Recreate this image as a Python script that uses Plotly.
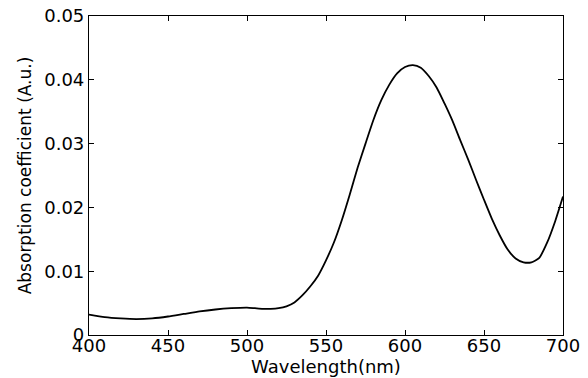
import plotly.graph_objects as go

wavelength_nm = [400, 410, 420, 430, 440, 450, 460, 470, 480, 490, 500, 505, 510, 515, 520, 525,
                 530, 535, 540, 545, 550, 555, 560, 565, 570, 575, 580, 585, 590, 595,
                 600, 605, 610, 615, 620, 625, 630, 635, 640, 645, 650, 655, 660, 665,
                 670, 675, 680, 685, 690, 695, 700]
absorption = [0.0032, 0.0028, 0.0026, 0.0025, 0.0026, 0.0029, 0.0033, 0.0037, 0.0040,
              0.0042, 0.0043, 0.0042, 0.0041, 0.0041, 0.0042, 0.0045, 0.0051, 0.0062, 0.0076, 0.0093,
              0.0117, 0.0145, 0.0180, 0.0220, 0.0262, 0.0300, 0.0337, 0.0368, 0.0392,
              0.0410, 0.0420, 0.0423, 0.0419, 0.0406, 0.0388, 0.0363, 0.0336, 0.0305,
              0.0275, 0.0243, 0.0212, 0.0182, 0.0156, 0.0134, 0.0120, 0.0114, 0.0114,
              0.0121, 0.0145, 0.0178, 0.0217]

x_ticks = [400, 450, 500, 550, 600, 650, 700]
y_ticks = [0, 0.01, 0.02, 0.03, 0.04, 0.05]
y_tick_labels = ["0", "0.01", "0.02", "0.03", "0.04", "0.05"]

FONT = "DejaVu Sans"

fig = go.Figure()
fig.add_trace(go.Scatter(
    x=wavelength_nm, y=absorption, mode="lines",
    line=dict(color="black", width=1.8, shape="spline", smoothing=0.6),
    showlegend=False, hoverinfo="skip"))

axis_common = dict(
    showline=True, linecolor="black", linewidth=1.2, mirror="ticks",
    ticks="inside", ticklen=5, tickwidth=1, tickcolor="black",
    showgrid=False, zeroline=False, ticklabeloverflow="allow",
    tickfont=dict(family=FONT, size=18, color="black"),
)

# the page body has an 8px margin, so the figure is sized to fit the 588x378 window
fig.update_layout(
    width=580, height=370,
    margin=dict(l=81, r=25, t=8, b=43, autoexpand=False),
    paper_bgcolor="white", plot_bgcolor="white",
    xaxis=dict(range=[400, 700], tickvals=x_ticks, ticklabelstandoff=-6,
               title=dict(text="Wavelength(nm)", font=dict(family=FONT, size=18, color="black"),
                          standoff=0),
               **axis_common),
    yaxis=dict(range=[0, 0.05], tickvals=y_ticks, ticktext=y_tick_labels, ticklabelstandoff=0,
               title=dict(text="Absorption coefficient (A.u.)",
                          font=dict(family=FONT, size=17, color="black"), standoff=8),
               **axis_common),
)

fig.write_html("out.html")
